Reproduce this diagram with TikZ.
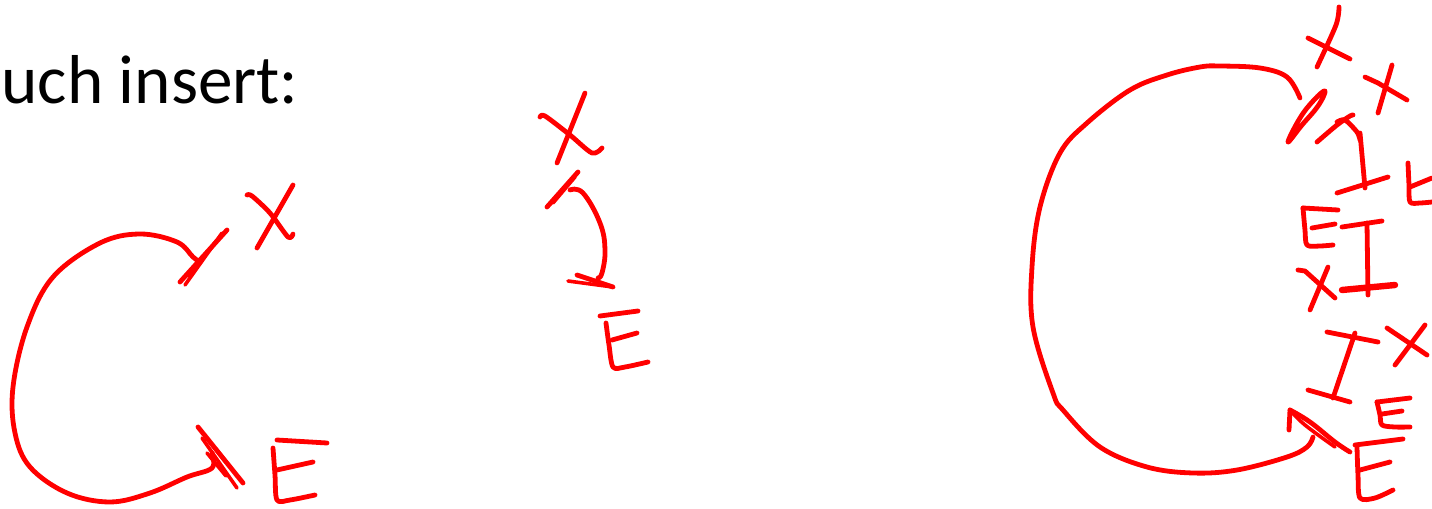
\documentclass[tikz,border=0pt]{standalone}
\usepackage{fontspec}
\setmainfont{Carlito}
\definecolor{ink}{RGB}{255,0,0}
\begin{document}
\begin{tikzpicture}[x=0.5pt,y=-0.5pt,
  pen/.style={draw=ink,line width=2.4pt,line cap=round,line join=round},
  thin pen/.style={pen,line width=1.8pt}]
\useasboundingbox (0,0) rectangle (1432,509);
\node[anchor=base west,inner sep=0pt,font=\fontsize{34.6}{40}\selectfont] (title) at (1,103) {uch insert:};
\begin{scope}
\clip (0,0) rectangle (1432,509);

% ---------- left sketch ----------
\draw[pen] plot[smooth,tension=0.6] coordinates {(212,453) (212,468) (187,477) (150,493) (110,502) (67,493) (30,467) (15,433) (13,387) (27,327) (53,277) (100,243) (140,234) (177,242) (193,257) (200,262)};
\draw[pen] (180,282) -- (227,230);
\draw[thin pen] (185,285) -- (222,233);
\draw[thin pen] (189,276) -- (217,240);
\draw[pen] (198,427) -- (243,483);
\draw[thin pen] (202,438) -- (237,488);
\draw[thin pen] (207,453) -- (226,476);
% X
\draw[pen] plot[smooth] coordinates {(247,195) (252,196) (270,213) (288,237) (293,234)};
\draw[pen] (293,185) -- (257,248);
% E
\draw[pen] (277,440) -- (327,443);
\draw[pen] plot[smooth] coordinates {(273,448) (275,475) (277,500) (290,500) (315,495)};
\draw[pen] (277,470) -- (313,462);

% ---------- middle sketch ----------
\draw[pen] plot[smooth] coordinates {(540,117) (545,116) (570,135) (592,153) (602,148)};
\draw[pen] (585,93) -- (557,163);
\draw[pen] (547,207) -- (578,172);
\draw[thin pen] (553,203) -- (575,177);
\draw[pen] plot[smooth,tension=0.7] coordinates {(570,190) (583,193) (600,223) (605,250) (602,273) (598,278)};
\draw[pen] (577,275) -- (613,287);
\draw[thin pen] (568,281) -- (613,287);
% E
\draw[pen] (600,316) -- (638,311);
\draw[pen] plot[smooth] coordinates {(606,323) (609,345) (613,367) (625,367) (648,362)};
\draw[pen] (612,340) -- (637,333);

% ---------- right sketch ----------
\draw[pen] plot[smooth,tension=0.6] coordinates {(1300,98) (1287,77) (1260,68) (1220,66) (1200,67) (1167,75) (1130,90) (1087,123) (1060,153) (1040,207) (1032,267) (1033,327) (1053,393) (1063,410) (1100,447) (1147,467) (1193,473) (1237,470) (1287,457) (1307,447) (1313,437)};
% top arrow leaf
\draw[pen] plot[smooth cycle,tension=0.7] coordinates {(1288,142) (1300,118) (1314,100) (1325,91) (1318,106) (1302,125)};
% bottom arrow leaf
\draw[pen] (1290,410) -- (1289,430);
\draw[pen] plot[smooth,tension=0.7] coordinates {(1290,410) (1310,422) (1335,442) (1350,452)};
\draw[thin pen] plot[smooth,tension=0.7] coordinates {(1290,410) (1305,425) (1335,447)};
% X top
\draw[pen] (1308,38) -- (1350,59);
\draw[pen] plot[smooth] coordinates {(1339,7) (1336,25) (1317,67)};
% x second
\draw[pen] (1365,77) -- (1378,83) -- (1407,100);
\draw[pen] plot[smooth] coordinates {(1392,65) (1390,72) (1378,113)};
% small x-like stroke and first I
\draw[pen] plot[smooth] coordinates {(1317,142) (1337,125) (1350,116) (1353,115)};
\draw[pen] plot[smooth] coordinates {(1337,122) (1345,120) (1357,132) (1360,140)};
\draw[pen] (1360,133) -- (1365,188);
\draw[pen] (1337,193) -- (1388,177);
% e at right edge
\draw[pen] plot[smooth] coordinates {(1408,163) (1409,185) (1410,202) (1420,203) (1432,202)};
\draw[pen] (1410,187) -- (1432,178);
% E left middle
\draw[pen] (1303,208) -- (1338,210);
\draw[pen] plot[smooth] coordinates {(1303,208) (1305,230) (1307,245) (1320,246) (1333,245)};
\draw[pen] (1312,228) -- (1335,224);
% I middle
\draw[pen] (1342,227) -- (1382,221);
\draw[pen] (1367,223) -- (1368,295);
\draw[pen,line width=3.2pt] (1342,290) -- (1395,285);
% x middle
\draw[pen] (1298,270) -- (1305,271) -- (1335,298);
\draw[pen] (1328,267) -- (1310,310);
% second I
\draw[pen] (1327,332) -- (1378,342);
\draw[pen] (1355,333) -- (1333,398);
\draw[pen] (1308,390) -- (1350,402);
% X right
\draw[pen] (1387,328) -- (1427,355);
\draw[pen] (1425,325) -- (1395,365);
% small E
\draw[pen] (1377,402) -- (1410,398);
\draw[pen] plot[smooth] coordinates {(1377,402) (1380,415) (1382,425) (1395,427) (1410,427)};
\draw[pen] (1382,414) -- (1402,411);
% big E bottom
\draw[pen] (1355,445) -- (1403,439);
\draw[pen] plot[smooth] coordinates {(1357,447) (1358,475) (1360,498) (1375,498) (1393,490)};
\draw[pen] (1360,470) -- (1390,462);
\end{scope}
\end{tikzpicture}
\end{document}
